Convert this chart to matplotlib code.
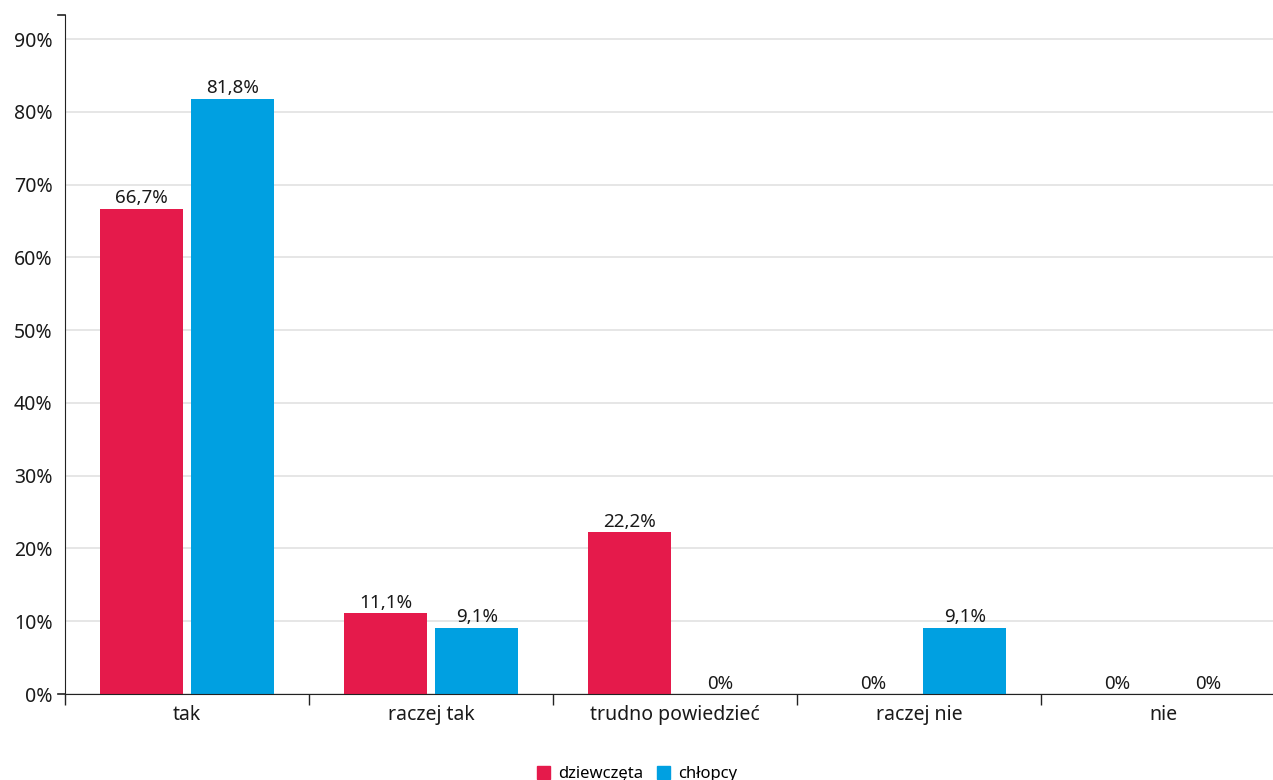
import numpy as np
import matplotlib.pyplot as plt
from matplotlib.patches import Patch

plt.rcParams['font.family'] = ['Noto Sans', 'DejaVu Sans']

# Data
categories = ["tak", "raczej tak", "trudno powiedzieć", "raczej nie", "nie"]
girls = [66.7, 11.1, 22.2, 0, 0]
boys = [81.8, 9.1, 0, 9.1, 0]
series_names = ["dziewczęta", "chłopcy"]
colors = ["#E51A4B", "#00A0E1"]

def fmt(v):
    if v == 0:
        return "0%"
    return f"{v:.1f}".replace(".", ",") + "%"

fig = plt.figure(figsize=(12.73, 7.8), dpi=100)
W, H = 1273, 780
left, right, top, bottom = 65, 1285, 15, 694
ax = fig.add_axes([left / W, 1 - bottom / H, (right - left) / W, (bottom - top) / H])

x = np.arange(len(categories))
bw = 0.34
off = 0.187
b1 = ax.bar(x - off, girls, bw, color=colors[0], zorder=3)
b2 = ax.bar(x + off, boys, bw, color=colors[1], zorder=3)

for bars, vals in [(b1, girls), (b2, boys)]:
    for b, v in zip(bars, vals):
        ax.text(b.get_x() + b.get_width() / 2, v + 0.2, fmt(v),
                ha="center", va="bottom", fontsize=13.5, color="#1a1a1a")

ax.set_xlim(-0.5, 4.5)
ax.set_ylim(0, 93.3)
ax.set_yticks(range(0, 100, 10))
ax.set_yticklabels([f"{t}%" for t in range(0, 100, 10)], fontsize=14, color="#1a1a1a")
ax.tick_params(axis="y", length=0, pad=9)

ax.set_xticks(x)
ax.set_xticklabels(categories, fontsize=14, color="#1a1a1a")
ax.tick_params(axis="x", length=0, pad=8)
ax.set_xticks(np.arange(-0.5, 5.0, 1.0), minor=True)
ax.tick_params(axis="x", which="minor", length=8, width=1, color="#222222")

ax.grid(axis="y", color="#e2e2e2", linewidth=1.2, zorder=0)
for s in ["top", "right"]:
    ax.spines[s].set_visible(False)
ax.spines["left"].set_color("#222222")
ax.spines["bottom"].set_color("#222222")
ax.spines["left"].set_zorder(4)
ax.spines["bottom"].set_zorder(4)

# small ticks at top and bottom of y axis
ax.plot([-0.5 - 0.029, -0.5], [93.3, 93.3], color="#222222", lw=1.2, clip_on=False)
ax.plot([-0.5 - 0.029, -0.5], [0, 0], color="#222222", lw=1.2, clip_on=False)

handles = [Patch(color=c, label=n) for c, n in zip(colors, series_names)]
fig.legend(handles=handles, loc="center", bbox_to_anchor=(637 / W, 1 - 774 / H),
           ncol=2, frameon=False, fontsize=12, handlelength=0.8, handleheight=0.8,
           handletextpad=0.5, columnspacing=0.8)

fig.savefig("out.png", dpi=100)
